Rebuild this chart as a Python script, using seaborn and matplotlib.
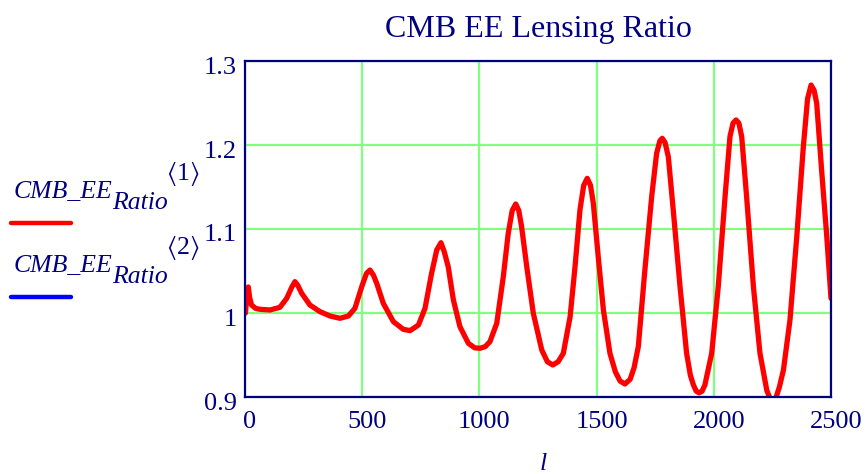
import matplotlib
matplotlib.use("Agg")
import matplotlib.pyplot as plt
import matplotlib.transforms as mtransforms
from matplotlib.lines import Line2D
import numpy as np
import pandas as pd
import seaborn as sns

# Lensed / unlensed EE power spectrum ratio versus multipole l
multipole = [2, 8, 14, 20, 28, 45, 64, 107, 149, 178, 200, 213, 225, 242, 277, 320, 363, 405,
             441, 469, 498, 518, 533, 548, 562, 590, 633, 675, 704, 740, 768, 796, 818, 836,
             850, 867, 889, 917, 953, 980, 1003, 1025, 1045, 1074, 1102, 1123, 1140, 1155, 1168,
             1180, 1202, 1230, 1266, 1290, 1313, 1336, 1358, 1387, 1408, 1429, 1445, 1460,
             1474, 1486, 1507, 1529, 1557, 1580, 1600, 1621, 1643, 1660, 1678, 1706, 1735, 1756,
             1770, 1780, 1792, 1806, 1827, 1856, 1884, 1900, 1913, 1925, 1937, 1950, 1962,
             1991, 2019, 2048, 2069, 2082, 2095, 2107, 2119, 2140, 2169, 2197, 2226, 2240,
             2252, 2265, 2280, 2297, 2325, 2354, 2382, 2400, 2415, 2428, 2439, 2460, 2482, 2500]
ee_ratio = [1.000, 1.022, 1.031, 1.018, 1.0095, 1.0055, 1.0044, 1.0036, 1.0068, 1.0175, 1.031,
            1.0373, 1.033, 1.0234, 1.0095, 1.0016, 0.9964, 0.9937, 0.9964, 1.0056, 1.0313,
            1.047, 1.0512, 1.045, 1.0353, 1.0115, 0.9897, 0.9806, 0.979, 0.9857, 1.0056,
            1.0472, 1.075, 1.0837, 1.073, 1.055, 1.0155, 0.9837, 0.9639, 0.9585, 0.958, 0.960,
            0.9659, 0.9877, 1.0432, 1.0948, 1.122, 1.1298, 1.122, 1.1028, 1.0552, 0.9996,
            0.956, 0.942, 0.9381, 0.942, 0.952, 0.9956, 1.0552, 1.1226, 1.152, 1.1603, 1.152,
            1.1306, 1.067, 1.0036, 0.952, 0.930, 0.919, 0.9155, 0.921, 0.935, 0.960, 1.0512,
            1.1385, 1.190, 1.205, 1.208, 1.203, 1.186, 1.1226, 1.0313, 0.952, 0.926, 0.9143,
            0.907, 0.905, 0.907, 0.9143, 0.952, 1.0313, 1.1385, 1.210, 1.226, 1.2298, 1.226,
            1.210, 1.1385, 1.0313, 0.952, 0.908, 0.898, 0.895, 0.899, 0.912, 0.932, 0.9917,
            1.091, 1.198, 1.255, 1.2714, 1.265, 1.2496, 1.170, 1.091, 1.0175]

x_ticks = [0, 500, 1000, 1500, 2000, 2500]
x_tick_labels = ["0", "500", "1000", "1500", "2000", "2500"]
y_ticks = [0.9, 1.0, 1.1, 1.2, 1.3]
y_tick_labels = ["0.9", "1", "1.1", "1.2", "1.3"]

sns.set_theme(style="white")
plt.rcParams["font.family"] = ["Liberation Serif", "DejaVu Serif"]
plt.rcParams["mathtext.fontset"] = "stix"

NAVY = "#000080"
GRID = "#80FF80"
W, H = 868, 474

df = pd.DataFrame({"l": multipole, "ratio": ee_ratio})

fig = plt.figure(figsize=(W / 100, H / 100), dpi=100)
fig.patch.set_facecolor("white")
ax = fig.add_axes([245 / W, 1 - 397 / H, 586 / W, 336 / H])

sns.lineplot(data=df, x="l", y="ratio", ax=ax, color="#FF0000", linewidth=3.8,
             estimator=None, sort=False)
for ln in ax.get_lines():
    ln.set_solid_joinstyle("round")

ax.set_xlim(0, 2500)
ax.set_ylim(0.9, 1.3)
ax.set_xticks(x_ticks)
ax.set_xticklabels(x_tick_labels)
ax.set_yticks(y_ticks)
ax.set_yticklabels(y_tick_labels)
ax.set_xlabel("")
ax.set_ylabel("")
ax.grid(True, color=GRID, linewidth=1.6)
ax.set_axisbelow(True)
for sp in ax.spines.values():
    sp.set_color(NAVY)
    sp.set_linewidth(1.6)
ax.tick_params(axis="both", length=0, labelsize=19, labelcolor=NAVY)
ax.tick_params(axis="x", pad=10)
ax.tick_params(axis="y", pad=6)

# nudge tick labels the way the plotting package places them
shift_x = mtransforms.ScaledTranslation(5 / 100, 0, fig.dpi_scale_trans)
for lab in ax.get_xticklabels():
    lab.set_transform(lab.get_transform() + shift_x)
shift_y = mtransforms.ScaledTranslation(0, -4 / 100, fig.dpi_scale_trans)
for lab in ax.get_yticklabels():
    lab.set_transform(lab.get_transform() + shift_y)

fig.text(538 / W, 1 - 37 / H, "CMB EE Lensing Ratio", ha="center", va="baseline",
         fontsize=23, color=NAVY)
fig.text(543 / W, 1 - 470 / H, "l", ha="center", va="baseline", fontsize=18.5,
         style="italic", color=NAVY)

# legend block on the left
entries = [("1", "#FF0000", 198, 223), ("2", "#0000FF", 272, 297)]
for idx, color, base, line_y in entries:
    fig.text(14 / W, 1 - base / H, "CMB_EE", ha="left", va="baseline", fontsize=18.5,
             style="italic", color=NAVY)
    fig.text(112 / W, 1 - (base + 11) / H, "Ratio", ha="left", va="baseline", fontsize=18.5,
             style="italic", color=NAVY)
    fig.text(166 / W, 1 - (base - 18) / H, r"$\langle$" + idx + r"$\rangle$", ha="left",
             va="baseline", fontsize=18.5, color=NAVY)
    fig.add_artist(Line2D([11 / W, 71 / W], [1 - line_y / H] * 2, color=color,
                          linewidth=3.2, solid_capstyle="round"))

fig.savefig("out.png", dpi=100, facecolor="white")
